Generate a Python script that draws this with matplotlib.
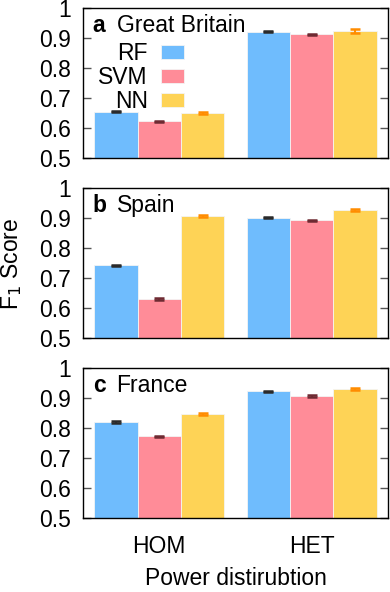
import matplotlib
matplotlib.use("Agg")
import matplotlib.pyplot as plt
import numpy as np

plt.rcParams['font.family'] = ['Liberation Sans', 'DejaVu Sans']

groups = ["HOM", "HET"]
models = ["RF", "SVM", "NN"]
panels = ["a", "b", "c"]
countries = ["Great Britain", "Spain", "France"]

gb_vals = {"RF": [0.655, 0.921], "SVM": [0.623, 0.912], "NN": [0.651, 0.923]}
es_vals = {"RF": [0.742, 0.901], "SVM": [0.630, 0.892], "NN": [0.908, 0.928]}
fr_vals = {"RF": [0.820, 0.923], "SVM": [0.773, 0.907], "NN": [0.846, 0.931]}

gb_err = {"RF": [0.002, 0.002], "SVM": [0.002, 0.002], "NN": [0.003, 0.006]}
es_err = {"RF": [0.002, 0.002], "SVM": [0.002, 0.002], "NN": [0.003, 0.003]}
fr_err = {"RF": [0.002, 0.002], "SVM": [0.002, 0.002], "NN": [0.003, 0.003]}

all_vals = [gb_vals, es_vals, fr_vals]
all_errs = [gb_err, es_err, fr_err]

bar_colors = {"RF": "#6FBCFD", "SVM": "#FF8C98", "NN": "#FED356"}
err_colors = {"RF": "#2a2a2a", "SVM": "#6e2a32", "NN": "#FF8C00"}

yticks = [0.5, 0.6, 0.7, 0.8, 0.9, 1.0]
yticklabels = ["0.5", "0.6", "0.7", "0.8", "0.9", "1"]

W, H = 390, 592
fig = plt.figure(figsize=(W/100, H/100), dpi=100)
left, width, height = 83/W, 305/W, 150/H
bottoms = [1 - 158/H, 1 - 338/H, 1 - 518/H]

x = np.arange(len(groups))
bw = 0.285
fs = 16.5

axes = []
for i in range(3):
    ax = fig.add_axes([left, bottoms[i], width, height])
    axes.append(ax)
    for j, m in enumerate(models):
        pos = x + (j - 1) * bw
        ax.bar(pos, np.array(all_vals[i][m]) - 0.5, bw, bottom=0.5,
               color=bar_colors[m], edgecolor="#f4f4f4", linewidth=0.6,
               label=m, zorder=2)
        ax.errorbar(pos, all_vals[i][m], yerr=all_errs[i][m], fmt="none",
                    ecolor=err_colors[m], elinewidth=1.5, capsize=3.5,
                    capthick=1.8, zorder=3)
    ax.set_xlim(-0.5, 1.5)
    ax.set_ylim(0.5, 1.0)
    ax.set_yticks(yticks)
    ax.set_yticklabels(yticklabels, fontsize=fs)
    ax.tick_params(axis="y", direction="in", length=6, width=1, color="#555555",
                   left=True, right=True, pad=9)
    ax.set_xticks(x)
    if i == 2:
        ax.set_xticklabels(groups, fontsize=fs)
        ax.tick_params(axis="x", length=0, pad=12)
    else:
        ax.set_xticklabels([])
        ax.tick_params(axis="x", length=0)
    for sp in ax.spines.values():
        sp.set_linewidth(1.0)
        sp.set_color("black")
    ax.text(0.032, 0.96, panels[i], transform=ax.transAxes, fontsize=fs,
            fontweight="bold", va="top", ha="left")
    ax.text(0.11, 0.96, countries[i], transform=ax.transAxes, fontsize=fs,
            va="top", ha="left")

fig.text(11.5/W, 1 - 264/H, "F$_1$ Score", fontsize=fs, rotation=90,
         ha="center", va="center")
fig.text(236/W, 2/H, "Power distirubtion", fontsize=fs,
         ha="center", va="bottom")

leg = axes[0].legend(loc="upper right", bbox_to_anchor=(0.37, 0.85),
                     markerfirst=False, frameon=False, fontsize=fs,
                     handlelength=1.0, handleheight=0.57, labelspacing=0.05,
                     handletextpad=0.6, borderpad=0.0)

fig.savefig("out.png", dpi=100)
